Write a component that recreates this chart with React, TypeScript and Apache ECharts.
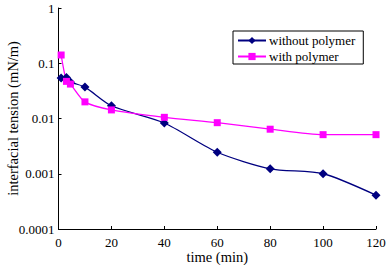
import React, { useEffect, useRef } from "react";
import * as echarts from "echarts";

const timeWithout = [1, 3, 4.5, 10, 20, 40, 60, 80, 100, 120];
const valuesWithout = [0.054, 0.055, 0.046, 0.037, 0.017, 0.0083, 0.00245, 0.00123, 0.001, 0.00041];
const timeWith = [1, 3, 4.5, 10, 20, 40, 60, 80, 100, 120];
const valuesWith = [0.141, 0.047, 0.042, 0.02, 0.0143, 0.0105, 0.0084, 0.0064, 0.0051, 0.0051];
const yTickValues = [1, 0.1, 0.01, 0.001, 0.0001];
const yTickLabels = ["1", "0.1", "0.01", "0.001", "0.0001"];
const xTickLabels = ["0", "20", "40", "60", "80", "100", "120"];

export default function App() {
  const ref = useRef<HTMLDivElement>(null);
  useEffect(() => {
    document.body.style.margin = "0";
    const chart = echarts.init(ref.current!, null, { renderer: "svg" });
    const font = "Liberation Serif";
    chart.setOption({
      animation: false,
      backgroundColor: "#ffffff",
      textStyle: { fontFamily: font },
      grid: { left: 58.5, right: 12, top: 8, bottom: 36, containLabel: false, outerBoundsMode: "none" },
      legend: {
        orient: "vertical",
        left: 233,
        top: 31,
        padding: [3, 8, 1, 4],
        itemWidth: 28,
        itemHeight: 9,
        itemGap: 3,
        borderColor: "#000",
        borderWidth: 1,
        textStyle: { fontFamily: font, fontSize: 13, color: "#000", padding: [0, 0, 0, -2] },
        data: ["without polymer", "with polymer"],
      },
      xAxis: {
        type: "value",
        min: 0,
        max: 120,
        interval: 20,
        name: "time (min)",
        nameLocation: "middle",
        nameGap: 20,
        nameMoveOverlap: false,
        nameTextStyle: { fontFamily: font, fontSize: 14.5, color: "#000", fontWeight: "normal" },
        axisLine: { lineStyle: { color: "#000", width: 1 } },
        axisTick: { inside: true, length: 3, lineStyle: { color: "#000" } },
        axisLabel: {
          fontFamily: font,
          fontSize: 13,
          color: "#000",
          margin: 7,
          formatter: (v: number) => xTickLabels[Math.round(v / 20)] ?? "",
        },
        splitLine: { show: false },
      },
      yAxis: {
        type: "log",
        logBase: 10,
        min: 0.0001,
        max: 1,
        name: "interfacial tension (mN/m)",
        nameLocation: "middle",
        nameGap: 38,
        nameMoveOverlap: false,
        nameTextStyle: { fontFamily: font, fontSize: 14.5, color: "#000", fontWeight: "normal" },
        axisLine: { show: true, lineStyle: { color: "#000", width: 1 } },
        axisTick: { show: true, inside: true, length: 3, lineStyle: { color: "#000" } },
        axisLabel: {
          fontFamily: font,
          fontSize: 13,
          color: "#000",
          margin: 4,
          formatter: (v: number) => {
            const i = yTickValues.findIndex((t) => Math.abs(Math.log10(t) - Math.log10(v)) < 0.01);
            return i >= 0 ? yTickLabels[i] : "";
          },
        },
        splitLine: { show: false },
      },
      series: [
        {
          name: "without polymer",
          type: "line",
          smooth: 0.25,
          data: timeWithout.map((t, i) => [t, valuesWithout[i]]),
          symbol: "diamond",
          symbolSize: 9,
          itemStyle: { color: "#000080" },
          lineStyle: { color: "#000080", width: 1.3 },
        },
        {
          name: "with polymer",
          type: "line",
          smooth: 0.25,
          data: timeWith.map((t, i) => [t, valuesWith[i]]),
          symbol: "rect",
          symbolSize: 7,
          itemStyle: { color: "#ff00ff" },
          lineStyle: { color: "#ff00ff", width: 1.3 },
        },
      ],
    });
    return () => chart.dispose();
  }, []);
  return <div ref={ref} style={{ width: 388, height: 265 }} />;
}
